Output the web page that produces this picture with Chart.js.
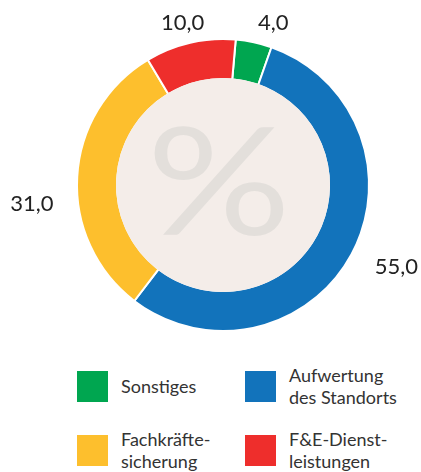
<!DOCTYPE html>
<html lang="de">
<head>
<meta charset="utf-8">
<script src="https://cdn.jsdelivr.net/npm/chart.js@4/dist/chart.umd.min.js"></script>
<style>
  html, body { margin: 0; padding: 0; background: #fff; }
  body { width: 421px; height: 472px; position: relative; overflow: hidden; font-family: Lato, "Open Sans", sans-serif; }
  #wrap { position: absolute; left: 0; top: 0; width: 421px; height: 350px; }
  #legend { position: absolute; left: 77px; top: 364px; display: grid; grid-template-columns: 168px 168px; row-gap: 20px; }
  .item { display: flex; align-items: center; height: 44px; }
  .box { width: 31px; height: 31px; flex: none; margin-right: 13px; }
  .txt { font-size: 18px; line-height: 22px; color: #333; }
</style>
</head>
<body>
<div id="wrap"><canvas id="donut"></canvas></div>
<div id="legend"></div>
<script>
const labels = ['Sonstiges', 'Aufwertung des Standorts', 'Fachkräftesicherung', 'F&E-Dienstleistungen'];
const legendLines = [['Sonstiges'], ['Aufwertung', 'des Standorts'], ['Fachkräfte-', 'sicherung'], ['F&E-Dienst-', 'leistungen']];
const values = [4.0, 55.0, 31.0, 10.0];
const colors = ['#00a650', '#1273bb', '#fdbf2d', '#ee2e2c'];

// legend (2 columns, same order as the slices)
const legend = document.getElementById('legend');
legendLines.forEach((lines, i) => {
    const item = document.createElement('div');
    item.className = 'item';
    item.innerHTML = '<div class="box" style="background:' + colors[i] + '"></div><div class="txt">' +
        lines.map(l => l.replace('&', '&amp;')).join('<br>') + '</div>';
    legend.appendChild(item);
});

// beige centre with the big % sign
const centerPlugin = {
    id: 'center',
    afterDatasetsDraw(chart) {
        const arc = chart.getDatasetMeta(0).data[0];
        const ctx = chart.ctx;
        ctx.save();
        ctx.beginPath();
        ctx.arc(arc.x, arc.y, arc.innerRadius + 1, 0, Math.PI * 2);
        ctx.fillStyle = '#f4ede9';
        ctx.fill();
        ctx.fillStyle = '#e3dfdb';
        ctx.font = '400 150px Lato';
        ctx.textAlign = 'center';
        ctx.textBaseline = 'middle';
        ctx.translate(arc.x - 4, arc.y + 2);
        ctx.scale(1.2, 1);
        ctx.fillText('%', 0, 0);
        ctx.restore();
    }
};

// value labels outside the ring
const valueLabels = {
    id: 'valueLabels',
    afterDraw(chart, args, opts) {
        const ctx = chart.ctx;
        ctx.save();
        ctx.font = '22px Lato';
        ctx.fillStyle = '#222';
        ctx.textAlign = 'center';
        ctx.textBaseline = 'middle';
        chart.getDatasetMeta(0).data.forEach((arc, i) => {
            const a = (arc.startAngle + arc.endAngle) / 2 + opts.shift[i] * Math.PI / 180;
            const r = arc.outerRadius + opts.pad[i];
            const txt = values[i].toFixed(1).replace('.', ',');
            ctx.fillText(txt, arc.x + Math.cos(a) * r, arc.y + Math.sin(a) * r);
        });
        ctx.restore();
    }
};

new Chart(document.getElementById('donut'), {
    type: 'doughnut',
    data: {
        labels: labels,
        datasets: [{
            data: values,
            backgroundColor: colors,
            borderColor: '#fff',
            borderWidth: 2,
            hoverOffset: 0
        }]
    },
    options: {
        responsive: true,
        maintainAspectRatio: false,
        animation: false,
        rotation: 5,
        cutout: '72.6%',
        layout: { padding: { left: 76, right: 51, top: 38, bottom: 18 } },
        plugins: {
            legend: { display: false },
            tooltip: { enabled: false },
            valueLabels: { pad: [24, 46, 46, 21], shift: [5, -3, -9, -1] }
        }
    },
    plugins: [centerPlugin, valueLabels]
});
</script>
</body>
</html>
